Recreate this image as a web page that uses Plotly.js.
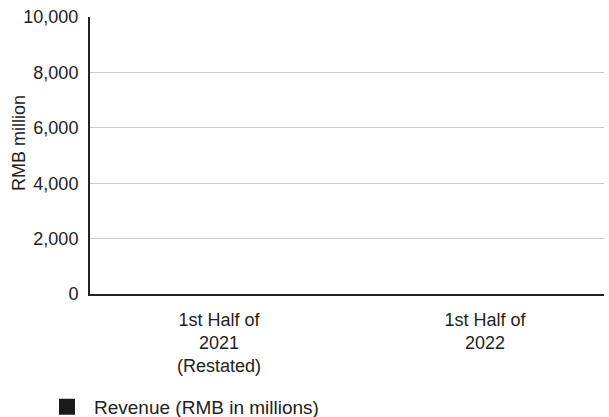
<!DOCTYPE html>
<html>
<head>
<meta charset="utf-8">
<script src="https://cdn.plot.ly/plotly-3.0.1.min.js"></script>
<style>html,body{margin:0;padding:0;background:#fff;}#chart{width:609px;height:417px;}</style>
</head>
<body>
<div id="chart"></div>
<script>
const categories = ["1st Half of<br>2021<br>(Restated)", "1st Half of<br>2022"];
const revenue = [null, null];
const seriesName = "Revenue (RMB in millions)";
const yTicks = [0, 2000, 4000, 6000, 8000, 10000];
const yTitle = "RMB million";

const font = "Liberation Sans, Arial, sans-serif";
const fs = 18;

Plotly.newPlot("chart", [{
  type: "bar",
  x: categories,
  y: revenue,
  name: seriesName,
  marker: {color: "#1a1a1a", line: {color: "#1a1a1a", width: 4}},
  showlegend: true
}], {
  width: 609, height: 417,
  margin: {l: 90, r: 5, t: 17, b: 123},
  paper_bgcolor: "#fff", plot_bgcolor: "#fff",
  font: {family: font, size: fs, color: "#222"},
  xaxis: {
    type: "category",
    range: [-0.485, 1.447],
    showgrid: false,
    showline: true, linecolor: "#222", linewidth: 2,
    ticks: "outside", ticklen: 8, tickcolor: "rgba(0,0,0,0)",
    tickfont: {family: font, size: fs, color: "#222"},
    zeroline: false
  },
  yaxis: {
    range: [0, 10000],
    tickvals: yTicks,
    tickformat: ",",
    showgrid: true, gridcolor: "#cccccc", gridwidth: 1,
    showline: true, linecolor: "#222", linewidth: 2,
    ticks: "outside", ticklen: 6, tickcolor: "rgba(0,0,0,0)",
    tickfont: {family: font, size: fs, color: "#222"},
    zeroline: false
  },
  annotations: [{
    text: yTitle,
    textangle: -90,
    xref: "paper", yref: "paper",
    x: -71/514, xanchor: "center",
    y: (294 - 143) / 277, yanchor: "middle",
    showarrow: false,
    font: {family: font, size: fs, color: "#222"}
  }],
  legend: {
    orientation: "h",
    xref: "container", yref: "container",
    x: 40/609, xanchor: "left",
    y: 1 - 407/417, yanchor: "middle",
    itemwidth: 44,
    font: {family: font, size: 19, color: "#222"}
  },
  bargap: 0.4
}, {displayModeBar: false, staticPlot: true});
</script>
</body>
</html>
